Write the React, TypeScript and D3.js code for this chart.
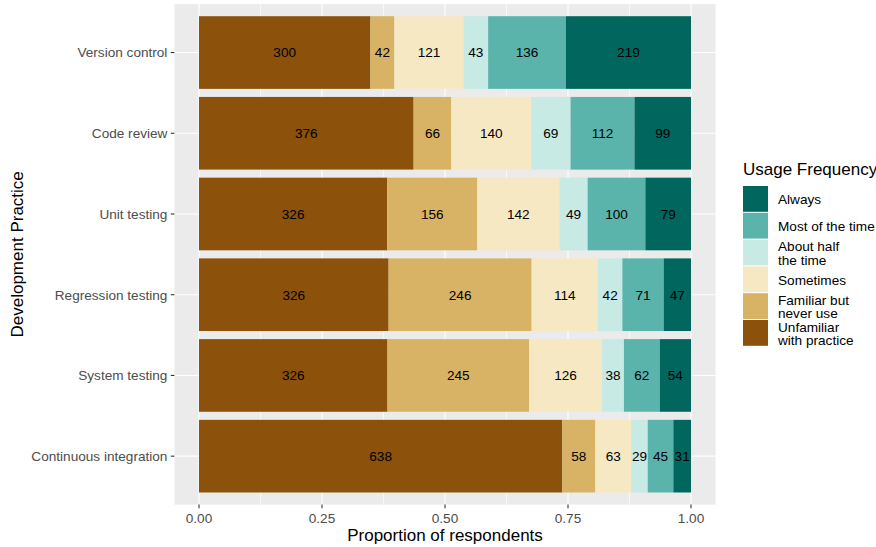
import React from "react";
import * as d3 from "d3";

const practices = [
  "Version control",
  "Code review",
  "Unit testing",
  "Regression testing",
  "System testing",
  "Continuous integration",
];
// stacking order from left to right
const levels = [
  "Unfamiliar with practice",
  "Familiar but never use",
  "Sometimes",
  "About half the time",
  "Most of the time",
  "Always",
];
const levelLabelLines = [
  ["Unfamiliar", "with practice"],
  ["Familiar but", "never use"],
  ["Sometimes"],
  ["About half", "the time"],
  ["Most of the time"],
  ["Always"],
];
const colors = ["#8C510A", "#D8B365", "#F6E8C3", "#C7EAE5", "#5AB4AC", "#01665E"];
const counts = [
  [300, 42, 121, 43, 136, 219],
  [376, 66, 140, 69, 112, 99],
  [326, 156, 142, 49, 100, 79],
  [326, 246, 114, 42, 71, 47],
  [326, 245, 126, 38, 62, 54],
  [638, 58, 63, 29, 45, 31],
];
const xTicks = [0, 0.25, 0.5, 0.75, 1];
const xMinor = [0.125, 0.375, 0.625, 0.875];

const W = 876;
const H = 547;
const panel = { left: 174.4, right: 715.6, top: 4.1, bottom: 504.6 };
const FONT = "'Liberation Sans', Arial, Helvetica, sans-serif";
const FS = 13.6;
const TFS = 17;

export default function App() {
  const x = d3
    .scaleLinear()
    .domain([-0.05, 1.05])
    .range([panel.left, panel.right]);
  // ggplot: discrete expansion 0.6 units; bar width 0.9
  const step = (panel.bottom - panel.top) / (practices.length - 1 + 1.2);
  const yc = (i: number) => panel.top + step * 0.6 + i * step;
  const bh = step * 0.9;

  const stacks = counts.map((row) => {
    const total = d3.sum(row);
    let acc = 0;
    return row.map((v) => {
      const s = acc / total;
      acc += v;
      return { v, s, e: acc / total };
    });
  });

  const legendX = 743;
  const legendTop = 186;
  const keyH = 26.8;
  const legendOrder = [5, 4, 3, 2, 1, 0];

  return (
    <svg
      width={W}
      height={H}
      style={{ position: "absolute", left: 0, top: 0, background: "#fff" }}
      fontFamily={FONT}
    >
      <rect
        x={panel.left}
        y={panel.top}
        width={panel.right - panel.left}
        height={panel.bottom - panel.top}
        fill="#EBEBEB"
      />
      {xMinor.map((t) => (
        <line key={"mn" + t} x1={x(t)} x2={x(t)} y1={panel.top} y2={panel.bottom} stroke="#fff" strokeWidth={0.6} />
      ))}
      {xTicks.map((t) => (
        <line key={"mj" + t} x1={x(t)} x2={x(t)} y1={panel.top} y2={panel.bottom} stroke="#fff" strokeWidth={1.1} />
      ))}
      {practices.map((p, i) => (
        <line key={"hy" + p} x1={panel.left} x2={panel.right} y1={yc(i)} y2={yc(i)} stroke="#fff" strokeWidth={1.1} />
      ))}
      {stacks.map((row, i) =>
        row.map((seg, j) => (
          <rect
            key={`b${i}-${j}`}
            x={x(seg.s)}
            y={yc(i) - bh / 2}
            width={x(seg.e) - x(seg.s)}
            height={bh}
            fill={colors[j]}
          />
        ))
      )}
      {stacks.map((row, i) =>
        row.map((seg, j) => (
          <text
            key={`t${i}-${j}`}
            x={(x(seg.s) + x(seg.e)) / 2}
            y={yc(i)}
            dy="0.36em"
            textAnchor="middle"
            fontSize={FS}
            fill="#000"
          >
            {seg.v}
          </text>
        ))
      )}
      {/* y axis */}
      {practices.map((p, i) => (
        <g key={"ya" + p}>
          <line x1={panel.left - 3.6} x2={panel.left} y1={yc(i)} y2={yc(i)} stroke="#333" strokeWidth={1.1} />
          <text x={panel.left - 7} y={yc(i)} dy="0.36em" textAnchor="end" fontSize={FS} fill="#4D4D4D">
            {p}
          </text>
        </g>
      ))}
      {/* x axis */}
      {xTicks.map((t) => (
        <g key={"xa" + t}>
          <line x1={x(t)} x2={x(t)} y1={panel.bottom} y2={panel.bottom + 3.6} stroke="#333" strokeWidth={1.1} />
          <text x={x(t)} y={panel.bottom + 18.5} textAnchor="middle" fontSize={FS} fill="#4D4D4D">
            {d3.format(".2f")(t)}
          </text>
        </g>
      ))}
      <text x={(panel.left + panel.right) / 2} y={541} textAnchor="middle" fontSize={TFS} fill="#000">
        Proportion of respondents
      </text>
      <text
        transform={`translate(23, ${(panel.top + panel.bottom) / 2}) rotate(-90)`}
        textAnchor="middle"
        fontSize={TFS}
        fill="#000"
      >
        Development Practice
      </text>
      {/* legend */}
      <text x={legendX} y={175} fontSize={TFS} fill="#000">
        Usage Frequency
      </text>
      {legendOrder.map((j, k) => {
        const ky = legendTop + k * keyH;
        const lines = levelLabelLines[j];
        return (
          <g key={"lg" + j}>
            <rect x={legendX} y={ky} width={25} height={keyH - 1} fill={colors[j]} />
            {lines.map((ln, li) => (
              <text
                key={li}
                x={legendX + 35}
                y={ky + keyH / 2 - ((lines.length - 1) * 13.5) / 2 + li * 13.5}
                dy="0.36em"
                fontSize={FS}
                fill="#000"
              >
                {ln}
              </text>
            ))}
          </g>
        );
      })}
    </svg>
  );
}
